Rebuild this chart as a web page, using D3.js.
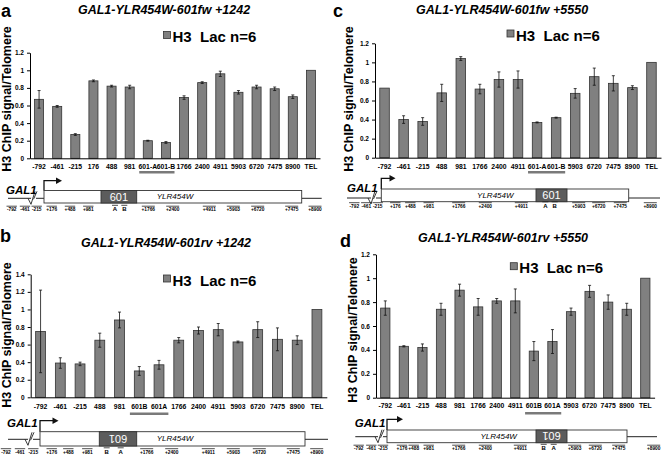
<!DOCTYPE html>
<html><head><meta charset="utf-8">
<script src="https://cdn.jsdelivr.net/npm/d3@7"></script>
<style>
body{margin:0;background:#fff}
svg{display:block}
text{font-family:"Liberation Sans",Arial,Helvetica,sans-serif;fill:#000}
</style>
</head><body>
<svg id="chart" width="664" height="454"></svg>
<script>
// ---------------- data ----------------
const panelLetters = ["a","b","c","d"];
const titles = ["GAL1-YLR454W-601fw +1242","GAL1-YLR454W-601rv +1242","GAL1-YLR454W-601fw +5550","GAL1-YLR454W-601rv +5550"];
const legendLabel = "H3  Lac n=6";
const yLabel = "H3 ChIP signal/Telomere";

const catsA = ["-792","-461","-215","176","488","981","601-A","601-B","1766","2400","4911","5903","6720","7475","8900","TEL"];
const valsA = [0.67,0.59,0.27,0.88,0.82,0.81,0.20,0.18,0.69,0.86,0.96,0.75,0.81,0.79,0.70,1.00];
const errA  = [0.10,0.01,0.01,0.01,0.01,0.02,0.005,0.01,0.02,0.01,0.03,0.02,0.02,0.02,0.02,0];

const catsB = ["-792","-461","-215","488","981","601B","601A","1766","2400","4911","5903","6720","7475","8900","TEL"];
const valsB = [0.75,0.39,0.38,0.65,0.88,0.30,0.37,0.65,0.76,0.77,0.63,0.77,0.66,0.65,1.00];
const errB  = [0.47,0.06,0.02,0.08,0.09,0.05,0.05,0.03,0.04,0.07,0.01,0.09,0.13,0.05,0];

const catsC = ["-792","-461","-215","488","981","1766","2400","4911","601-A","601-B","5903","6720","7475","8900","TEL"];
const valsC = [0.73,0.40,0.38,0.68,1.04,0.72,0.82,0.82,0.37,0.42,0.675,0.85,0.78,0.735,1.00];
const errC  = [0,0.04,0.04,0.09,0.02,0.05,0.08,0.09,0.005,0.005,0.05,0.09,0.08,0.02,0];

const catsD = ["-792","-461","-215","488","981","1766","2400","4911","601B","601A","5903","6720","7475","8900","TEL"];
const valsD = [0.75,0.43,0.42,0.74,0.90,0.76,0.81,0.81,0.39,0.47,0.72,0.89,0.80,0.74,1.00];
const errD  = [0.06,0.005,0.03,0.05,0.05,0.07,0.02,0.10,0.08,0.10,0.03,0.05,0.06,0.05,0];

const yMaxes = [1.2,1.4,1.2,1.2];

const primersA = ["-792","-461","-215","+176","+488","+981","A","B","+1766","+2400","+4911","+5903","+6720","+7475","+8900"];
const primersB = ["-792","-461","-215","+176","+488","+981","B","A","+1766","+2400","+4911","+5903","+6720","+7475","+8900"];
const primersC = ["-792","-461","-215","+176","+488","+981","+1766","+2400","+4911","A","B","+5903","+6720","+7475","+8900"];
const primersD = ["-792","-461","-215","+176","+488","+981","+1766","+2400","+4911","B","A","+5903","+6720","+7475","+8900"];

// ---------------- layout ----------------
const BAR_FILL = "#808080";
const panels = [
 {cats:catsA, vals:valsA, errs:errA, yMax:yMaxes[0], letter:panelLetters[0], title:titles[0], primers:primersA,
  x0:30, x1:320, y0:158.3, y1:52.7, letterPos:[1,16.5], titlePos:[164,14], legendPos:[163.5,31.5], ylabPos:[7,99],
  xlabBase:169.5, under:["601-A","601-B"], underY:171,
  dg:{lineY:198.3, lineX0:8, boxX0:44, boxX1:301.7, lineX1:321.7, boxY0:190.5, boxY1:203, ins:[101,136.7], flip:false,
      geneX:175, arrowTop:180.7, arrowX1:62, gal1:[6,193.5], brk:32, primerY:211,
      primerX:[11.7,25,36.7,51.7,70,88.3,115,124.3,148.3,172.7,209.3,233.3,257.7,291.7,315]}},
 {cats:catsB, vals:valsB, errs:errB, yMax:yMaxes[1], letter:panelLetters[1], title:titles[1], primers:primersB,
  x0:30.7, x1:326.8, y0:397.3, y1:274.3, letterPos:[0,242], titlePos:[166,246.5], legendPos:[163.5,275], ylabPos:[7,335],
  xlabBase:409, under:["601B","601A"], underY:412.5,
  dg:{lineY:439.3, lineX0:8, boxX0:40, boxX1:305, lineX1:328, boxY0:431.7, boxY1:446, ins:[99.3,136.7], flip:true,
      geneX:175, arrowTop:420.7, arrowX1:58.5, gal1:[7,427], brk:29, primerY:453.5,
      primerX:[6,20,33.3,51.7,68.3,87.3,106.7,120.7,146.7,171.7,208.3,233.3,259.3,293.3,316.7]}},
 {cats:catsC, vals:valsC, errs:errC, yMax:yMaxes[2], letter:panelLetters[2], title:titles[2], primers:primersC,
  x0:375, x1:661, y0:157.7, y1:43.3, letterPos:[333,16.5], titlePos:[502,14], legendPos:[507,30], ylabPos:[349,99],
  xlabBase:169, under:["601-A","601-B"], underY:171,
  dg:{lineY:198, lineX0:347, boxX0:381.3, boxX1:628.7, lineX1:660, boxY0:189, boxY1:201.7, ins:[536,567], flip:false,
      geneX:495.3, arrowTop:178.3, arrowX1:395.5, gal1:[347,192], brk:372, primerY:207.5,
      primerX:[354.3,366.3,377.7,395.3,410.3,428.7,458.7,485.3,521.3,545.3,554.7,578.7,598.7,620.3,650.3]}},
 {cats:catsD, vals:valsD, errs:errD, yMax:yMaxes[3], letter:panelLetters[3], title:titles[3], primers:primersD,
  x0:376, x1:654.6, y0:397.7, y1:254.3, letterPos:[340,246.5], titlePos:[503,241.5], legendPos:[510.3,262.7], ylabPos:[353,330],
  xlabBase:408, under:["601B","601A"], underY:412,
  dg:{lineY:436.7, lineX0:355.3, boxX0:387, boxX1:627, lineX1:657, boxY0:430, boxY1:442.7, ins:[536,567], flip:true,
      geneX:498.7, arrowTop:419.3, arrowX1:403, gal1:[354.7,427], brk:379, primerY:450,
      primerX:[358.7,371.3,383,402,413.7,428.7,458.7,485.3,520.3,543.7,553.7,574.7,595.3,618.7,653.7]}}
];

const svg = d3.select("#chart");
svg.append("rect").attr("width",664).attr("height",454).attr("fill","#fff");

function drawPanel(p){
  const g = svg.append("g");
  const x = d3.scaleBand().domain(p.cats).range([p.x0,p.x1]).paddingInner(0.5).paddingOuter(0.25);
  const y = d3.scaleLinear().domain([0,p.yMax]).range([p.y0,p.y1]);

  g.append("text").attr("x",p.letterPos[0]).attr("y",p.letterPos[1]).attr("font-size",18).attr("font-weight","bold").text(p.letter);
  g.append("text").attr("x",p.titlePos[0]).attr("y",p.titlePos[1]).attr("text-anchor","middle")
   .attr("font-size",12.5).attr("font-weight","bold").attr("font-style","italic").text(p.title);

  g.append("text").attr("transform",`translate(${p.ylabPos[0]},${p.ylabPos[1]}) rotate(-90)`)
   .attr("text-anchor","middle").attr("dominant-baseline","central")
   .attr("font-size",12.5).attr("font-weight","bold").text(yLabel);

  const ya = g.append("g").attr("transform",`translate(${p.x0},0)`)
    .call(d3.axisLeft(y).tickValues(d3.range(0,p.yMax+0.001,0.2)).tickSize(3).tickSizeOuter(0).tickPadding(3)
      .tickFormat(d=>String(+d.toFixed(1))));
  ya.selectAll("text").attr("font-size",6.5).attr("font-weight","bold").attr("font-family",null).attr("fill","#000");
  ya.selectAll("line").attr("stroke","#000");
  ya.select(".domain").attr("stroke","#000");

  g.selectAll("rect.bar").data(p.cats).join("rect").attr("class","bar")
    .attr("x",c=>x(c)).attr("y",(c,i)=>y(p.vals[i]))
    .attr("width",x.bandwidth()).attr("height",(c,i)=>p.y0-y(p.vals[i]))
    .attr("fill",BAR_FILL).attr("stroke","#333").attr("stroke-width",0.8);

  const eg = g.append("g").attr("stroke","#111").attr("stroke-width",0.8);
  p.cats.forEach((c,i)=>{
    const e = p.errs[i]; if(!e) return;
    const cx = x(c)+x.bandwidth()/2, v = p.vals[i];
    eg.append("line").attr("x1",cx).attr("x2",cx).attr("y1",y(v-e)).attr("y2",y(v+e));
    eg.append("line").attr("x1",cx-1.5).attr("x2",cx+1.5).attr("y1",y(v+e)).attr("y2",y(v+e));
    eg.append("line").attr("x1",cx-1.5).attr("x2",cx+1.5).attr("y1",y(v-e)).attr("y2",y(v-e));
  });

  const fs = 6.8;
  const xa = g.append("g").attr("transform",`translate(0,${p.y0})`)
    .call(d3.axisBottom(x).tickSize(0).tickSizeOuter(0).tickPadding(p.xlabBase-p.y0-0.71*fs));
  xa.selectAll("text").attr("font-size",fs).attr("font-weight","bold").attr("font-family",null).attr("fill","#000");
  xa.select(".domain").attr("stroke","#000");

  const step = x.step();
  const ux0 = x(p.under[0]) - step*0.25 + 0.5, ux1 = x(p.under[1]) + x.bandwidth() + step*0.25 - 0.5;
  g.append("rect").attr("x",ux0).attr("y",p.underY).attr("width",ux1-ux0).attr("height",2.5).attr("fill","#7a7a7a");

  g.append("rect").attr("x",p.legendPos[0]).attr("y",p.legendPos[1]).attr("width",7).attr("height",7)
    .attr("fill",BAR_FILL).attr("stroke","#333").attr("stroke-width",0.8);
  g.append("text").attr("x",p.legendPos[0]+9).attr("y",p.legendPos[1]+10.5).attr("font-size",15).attr("font-weight","bold")
    .style("white-space","pre").text(legendLabel);

  // ---- gene diagram ----
  const d = p.dg, dgG = g.append("g");
  dgG.append("line").attr("x1",d.lineX0).attr("x2",d.boxX0).attr("y1",d.lineY).attr("y2",d.lineY).attr("stroke","#222").attr("stroke-width",1);
  dgG.append("line").attr("x1",d.boxX1).attr("x2",d.lineX1).attr("y1",d.lineY).attr("y2",d.lineY).attr("stroke","#222").attr("stroke-width",1);
  const b = d.brk, ly = d.lineY;
  dgG.append("rect").attr("x",b-1).attr("y",ly-1).attr("width",5).attr("height",2).attr("fill","#fff");
  dgG.append("path").attr("d",`M${b-4},${ly} L${b-1},${ly+6} L${b+3},${ly-7}`).attr("fill","none").attr("stroke","#222").attr("stroke-width",0.9);
  dgG.append("path").attr("d",`M${b+1.5},${ly+1} L${b+5},${ly-7}`).attr("fill","none").attr("stroke","#222").attr("stroke-width",0.9);
  dgG.append("path").attr("d",`M${d.boxX0},${d.boxY0} L${d.boxX0},${d.arrowTop} L${d.arrowX1-4},${d.arrowTop}`)
    .attr("fill","none").attr("stroke","#111").attr("stroke-width",1.3);
  dgG.append("path").attr("d",`M${d.arrowX1},${d.arrowTop} L${d.arrowX1-6},${d.arrowTop-3.2} L${d.arrowX1-6},${d.arrowTop+3.2} Z`).attr("fill","#111");
  dgG.append("text").attr("x",d.gal1[0]).attr("y",d.gal1[1]).attr("font-size",11.5).attr("font-weight","bold").attr("font-style","italic").text("GAL1");
  dgG.append("rect").attr("x",d.boxX0).attr("y",d.boxY0).attr("width",d.boxX1-d.boxX0).attr("height",d.boxY1-d.boxY0)
    .attr("fill","#fff").attr("stroke","#333").attr("stroke-width",0.9);
  dgG.append("rect").attr("x",d.ins[0]).attr("y",d.boxY0).attr("width",d.ins[1]-d.ins[0]).attr("height",d.boxY1-d.boxY0)
    .attr("fill","#5c5c5c").attr("stroke","#333").attr("stroke-width",0.9);
  const icx = (d.ins[0]+d.ins[1])/2, icy = (d.boxY0+d.boxY1)/2;
  dgG.append("text").attr("transform",`translate(${icx},${icy}) rotate(${d.flip?180:0})`)
    .attr("text-anchor","middle").attr("dominant-baseline","central").attr("font-size",11).style("fill","#fff").text("601");
  dgG.append("text").attr("x",d.geneX).attr("y",icy).attr("text-anchor","middle").attr("dominant-baseline","central")
    .attr("font-size",8).attr("font-style","italic").text("YLR454W");
  p.primers.forEach((lab,i)=>{
    const px = d.primerX[i];
    const big = lab.length===1;
    const f = big?6:4.8;
    const w = big?6:lab.length*2.6;
    dgG.append("line").attr("x1",px-w/2).attr("x2",px+w/2).attr("y1",d.primerY-f*0.75-1.2).attr("y2",d.primerY-f*0.75-1.2)
      .attr("stroke","#222").attr("stroke-width",0.8);
    dgG.append("text").attr("x",px).attr("y",d.primerY).attr("text-anchor","middle").attr("font-size",f).attr("font-weight","bold").text(lab);
  });
}
panels.forEach(drawPanel);
</script>
</body></html>
